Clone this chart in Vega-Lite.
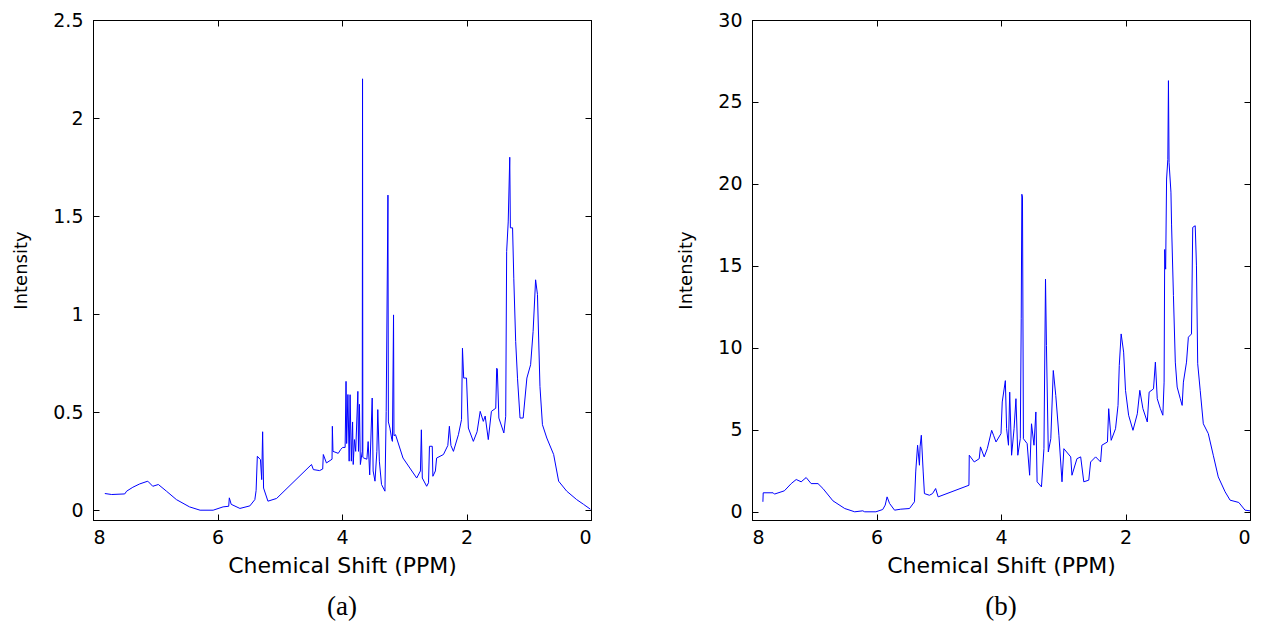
{
  "$schema": "https://vega.github.io/schema/vega-lite/v6.json",
  "background": "white",
  "padding": {"left": 12, "top": 10, "right": 5, "bottom": 5},
  "spacing": 84,
  "config": {
    "view": {"stroke": "black", "strokeWidth": 1},
    "axis": {
      "grid": false,
      "domainColor": "black",
      "tickColor": "black",
      "labelColor": "black",
      "titleColor": "black",
      "labelFont": "DejaVu Sans",
      "titleFont": "DejaVu Sans",
      "titleFontWeight": "normal",
      "labelFontSize": 19,
      "titleFontSize": 20,
      "tickSize": -6,
      "labelPadding": 16
    }
  },
  "datasets": {
    "a": [
      {"ppm": 7.81, "intensity": 0.085}, {"ppm": 7.7, "intensity": 0.08}, {"ppm": 7.49, "intensity": 0.083},
      {"ppm": 7.46, "intensity": 0.097}, {"ppm": 7.36, "intensity": 0.117}, {"ppm": 7.25, "intensity": 0.134},
      {"ppm": 7.12, "intensity": 0.148}, {"ppm": 7.04, "intensity": 0.122}, {"ppm": 6.95, "intensity": 0.131},
      {"ppm": 6.82, "intensity": 0.097}, {"ppm": 6.66, "intensity": 0.054}, {"ppm": 6.45, "intensity": 0.017},
      {"ppm": 6.28, "intensity": 0.0}, {"ppm": 6.07, "intensity": 0.0}, {"ppm": 5.91, "intensity": 0.017},
      {"ppm": 5.82, "intensity": 0.02}, {"ppm": 5.81, "intensity": 0.063}, {"ppm": 5.78, "intensity": 0.03},
      {"ppm": 5.64, "intensity": 0.009}, {"ppm": 5.48, "intensity": 0.022}, {"ppm": 5.4, "intensity": 0.054},
      {"ppm": 5.38, "intensity": 0.1}, {"ppm": 5.36, "intensity": 0.275}, {"ppm": 5.31, "intensity": 0.258},
      {"ppm": 5.29, "intensity": 0.156}, {"ppm": 5.275, "intensity": 0.4}, {"ppm": 5.26, "intensity": 0.113},
      {"ppm": 5.19, "intensity": 0.046}, {"ppm": 5.05, "intensity": 0.06}, {"ppm": 4.49, "intensity": 0.233},
      {"ppm": 4.46, "intensity": 0.207}, {"ppm": 4.36, "intensity": 0.202}, {"ppm": 4.31, "intensity": 0.21},
      {"ppm": 4.3, "intensity": 0.284}, {"ppm": 4.25, "intensity": 0.241}, {"ppm": 4.16, "intensity": 0.26},
      {"ppm": 4.155, "intensity": 0.428}, {"ppm": 4.145, "intensity": 0.3}, {"ppm": 4.06, "intensity": 0.29},
      {"ppm": 4.02, "intensity": 0.31}, {"ppm": 3.99, "intensity": 0.32}, {"ppm": 3.95, "intensity": 0.32},
      {"ppm": 3.935, "intensity": 0.657}, {"ppm": 3.925, "intensity": 0.34}, {"ppm": 3.905, "intensity": 0.59},
      {"ppm": 3.885, "intensity": 0.25}, {"ppm": 3.87, "intensity": 0.589}, {"ppm": 3.85, "intensity": 0.25},
      {"ppm": 3.83, "intensity": 0.45}, {"ppm": 3.82, "intensity": 0.233}, {"ppm": 3.8, "intensity": 0.36},
      {"ppm": 3.78, "intensity": 0.3}, {"ppm": 3.745, "intensity": 0.606}, {"ppm": 3.735, "intensity": 0.3},
      {"ppm": 3.72, "intensity": 0.54}, {"ppm": 3.705, "intensity": 0.233}, {"ppm": 3.675, "intensity": 0.3},
      {"ppm": 3.67, "intensity": 2.2}, {"ppm": 3.665, "intensity": 0.27}, {"ppm": 3.65, "intensity": 0.266},
      {"ppm": 3.6, "intensity": 0.26}, {"ppm": 3.58, "intensity": 0.35}, {"ppm": 3.555, "intensity": 0.18},
      {"ppm": 3.515, "intensity": 0.572}, {"ppm": 3.5, "intensity": 0.2}, {"ppm": 3.47, "intensity": 0.148},
      {"ppm": 3.44, "intensity": 0.3}, {"ppm": 3.425, "intensity": 0.513}, {"ppm": 3.4, "intensity": 0.25},
      {"ppm": 3.365, "intensity": 0.131}, {"ppm": 3.31, "intensity": 0.097}, {"ppm": 3.29, "intensity": 0.504},
      {"ppm": 3.262, "intensity": 1.607}, {"ppm": 3.255, "intensity": 0.45}, {"ppm": 3.23, "intensity": 0.419},
      {"ppm": 3.2, "intensity": 0.36}, {"ppm": 3.19, "intensity": 0.351}, {"ppm": 3.172, "intensity": 0.996},
      {"ppm": 3.165, "intensity": 0.38}, {"ppm": 3.14, "intensity": 0.385}, {"ppm": 3.02, "intensity": 0.266},
      {"ppm": 2.91, "intensity": 0.215}, {"ppm": 2.8, "intensity": 0.164}, {"ppm": 2.74, "intensity": 0.2},
      {"ppm": 2.725, "intensity": 0.41}, {"ppm": 2.71, "intensity": 0.164}, {"ppm": 2.64, "intensity": 0.122},
      {"ppm": 2.61, "intensity": 0.14}, {"ppm": 2.595, "intensity": 0.326}, {"ppm": 2.55, "intensity": 0.326},
      {"ppm": 2.54, "intensity": 0.173}, {"ppm": 2.5, "intensity": 0.2}, {"ppm": 2.48, "intensity": 0.266},
      {"ppm": 2.37, "intensity": 0.284}, {"ppm": 2.3, "intensity": 0.33}, {"ppm": 2.275, "intensity": 0.428},
      {"ppm": 2.25, "intensity": 0.33}, {"ppm": 2.21, "intensity": 0.3}, {"ppm": 2.13, "intensity": 0.385},
      {"ppm": 2.08, "intensity": 0.462}, {"ppm": 2.065, "intensity": 0.826}, {"ppm": 2.045, "intensity": 0.674},
      {"ppm": 2.0, "intensity": 0.674}, {"ppm": 1.97, "intensity": 0.419}, {"ppm": 1.89, "intensity": 0.351},
      {"ppm": 1.83, "intensity": 0.4}, {"ppm": 1.78, "intensity": 0.504}, {"ppm": 1.73, "intensity": 0.453},
      {"ppm": 1.7, "intensity": 0.48}, {"ppm": 1.65, "intensity": 0.36}, {"ppm": 1.6, "intensity": 0.504},
      {"ppm": 1.53, "intensity": 0.52}, {"ppm": 1.515, "intensity": 0.724}, {"ppm": 1.505, "intensity": 0.72},
      {"ppm": 1.48, "intensity": 0.47}, {"ppm": 1.4, "intensity": 0.394}, {"ppm": 1.37, "intensity": 0.479},
      {"ppm": 1.355, "intensity": 1.319}, {"ppm": 1.33, "intensity": 1.47}, {"ppm": 1.305, "intensity": 1.8},
      {"ppm": 1.295, "intensity": 1.44}, {"ppm": 1.26, "intensity": 1.44}, {"ppm": 1.24, "intensity": 1.18},
      {"ppm": 1.21, "intensity": 0.86}, {"ppm": 1.18, "intensity": 0.67}, {"ppm": 1.14, "intensity": 0.47},
      {"ppm": 1.09, "intensity": 0.47}, {"ppm": 1.03, "intensity": 0.674}, {"ppm": 0.97, "intensity": 0.742},
      {"ppm": 0.93, "intensity": 0.911}, {"ppm": 0.89, "intensity": 1.175}, {"ppm": 0.86, "intensity": 1.1},
      {"ppm": 0.82, "intensity": 0.631}, {"ppm": 0.78, "intensity": 0.436}, {"ppm": 0.71, "intensity": 0.368},
      {"ppm": 0.6, "intensity": 0.284}, {"ppm": 0.52, "intensity": 0.148}, {"ppm": 0.39, "intensity": 0.097},
      {"ppm": 0.23, "intensity": 0.054}, {"ppm": 0.12, "intensity": 0.03}, {"ppm": 0.01, "intensity": 0.005}
    ],
    "b": [
      {"ppm": 7.825, "intensity": 0.61}, {"ppm": 7.82, "intensity": 1.16}, {"ppm": 7.66, "intensity": 1.16},
      {"ppm": 7.64, "intensity": 1.08}, {"ppm": 7.48, "intensity": 1.28}, {"ppm": 7.37, "intensity": 1.72},
      {"ppm": 7.29, "intensity": 1.97}, {"ppm": 7.21, "intensity": 1.83}, {"ppm": 7.13, "intensity": 2.09},
      {"ppm": 7.05, "intensity": 1.72}, {"ppm": 6.94, "intensity": 1.72}, {"ppm": 6.86, "intensity": 1.42},
      {"ppm": 6.7, "intensity": 0.67}, {"ppm": 6.51, "intensity": 0.2}, {"ppm": 6.35, "intensity": 0.0},
      {"ppm": 6.22, "intensity": 0.06}, {"ppm": 6.19, "intensity": 0.0}, {"ppm": 6.01, "intensity": 0.0},
      {"ppm": 5.9, "intensity": 0.14}, {"ppm": 5.86, "intensity": 0.41}, {"ppm": 5.83, "intensity": 0.91},
      {"ppm": 5.79, "intensity": 0.51}, {"ppm": 5.71, "intensity": 0.1}, {"ppm": 5.61, "intensity": 0.16},
      {"ppm": 5.47, "intensity": 0.2}, {"ppm": 5.39, "intensity": 0.61}, {"ppm": 5.37, "intensity": 2.43},
      {"ppm": 5.34, "intensity": 4.06}, {"ppm": 5.31, "intensity": 2.84}, {"ppm": 5.3, "intensity": 3.96},
      {"ppm": 5.28, "intensity": 4.67}, {"ppm": 5.25, "intensity": 2.43}, {"ppm": 5.23, "intensity": 1.11},
      {"ppm": 5.15, "intensity": 1.01}, {"ppm": 5.1, "intensity": 1.11}, {"ppm": 5.05, "intensity": 1.42},
      {"ppm": 5.01, "intensity": 0.91}, {"ppm": 4.515, "intensity": 1.62}, {"ppm": 4.51, "intensity": 3.45},
      {"ppm": 4.43, "intensity": 3.04}, {"ppm": 4.35, "intensity": 3.24}, {"ppm": 4.33, "intensity": 3.96},
      {"ppm": 4.27, "intensity": 3.35}, {"ppm": 4.22, "intensity": 3.85}, {"ppm": 4.15, "intensity": 4.97},
      {"ppm": 4.12, "intensity": 4.67}, {"ppm": 4.08, "intensity": 4.26}, {"ppm": 4.0, "intensity": 4.77},
      {"ppm": 3.98, "intensity": 6.7}, {"ppm": 3.93, "intensity": 8.0}, {"ppm": 3.91, "intensity": 5.07},
      {"ppm": 3.88, "intensity": 4.06}, {"ppm": 3.86, "intensity": 7.3}, {"ppm": 3.83, "intensity": 3.45},
      {"ppm": 3.79, "intensity": 5.07}, {"ppm": 3.76, "intensity": 6.9}, {"ppm": 3.73, "intensity": 3.45},
      {"ppm": 3.69, "intensity": 4.46}, {"ppm": 3.675, "intensity": 11.77}, {"ppm": 3.665, "intensity": 19.37},
      {"ppm": 3.655, "intensity": 19.2}, {"ppm": 3.64, "intensity": 4.46}, {"ppm": 3.58, "intensity": 4.16},
      {"ppm": 3.54, "intensity": 2.23}, {"ppm": 3.51, "intensity": 5.37}, {"ppm": 3.47, "intensity": 4.06},
      {"ppm": 3.44, "intensity": 6.09}, {"ppm": 3.42, "intensity": 1.83}, {"ppm": 3.35, "intensity": 1.52},
      {"ppm": 3.31, "intensity": 3.85}, {"ppm": 3.285, "intensity": 14.2}, {"ppm": 3.27, "intensity": 10.15},
      {"ppm": 3.24, "intensity": 3.65}, {"ppm": 3.2, "intensity": 4.46}, {"ppm": 3.16, "intensity": 8.62},
      {"ppm": 3.12, "intensity": 7.1}, {"ppm": 3.07, "intensity": 4.67}, {"ppm": 3.02, "intensity": 1.83},
      {"ppm": 2.99, "intensity": 3.85}, {"ppm": 2.88, "intensity": 3.35}, {"ppm": 2.86, "intensity": 2.23},
      {"ppm": 2.78, "intensity": 3.24}, {"ppm": 2.72, "intensity": 3.35}, {"ppm": 2.67, "intensity": 1.83},
      {"ppm": 2.59, "intensity": 1.93}, {"ppm": 2.56, "intensity": 3.04}, {"ppm": 2.48, "intensity": 3.35},
      {"ppm": 2.4, "intensity": 3.04}, {"ppm": 2.38, "intensity": 4.06}, {"ppm": 2.29, "intensity": 4.26},
      {"ppm": 2.27, "intensity": 6.29}, {"ppm": 2.23, "intensity": 4.36}, {"ppm": 2.16, "intensity": 5.07},
      {"ppm": 2.12, "intensity": 6.49}, {"ppm": 2.1, "intensity": 8.93}, {"ppm": 2.07, "intensity": 10.85},
      {"ppm": 2.03, "intensity": 9.74}, {"ppm": 2.0, "intensity": 7.41}, {"ppm": 1.95, "intensity": 5.89},
      {"ppm": 1.88, "intensity": 4.97}, {"ppm": 1.81, "intensity": 5.98}, {"ppm": 1.77, "intensity": 7.41},
      {"ppm": 1.72, "intensity": 6.29}, {"ppm": 1.65, "intensity": 5.48}, {"ppm": 1.62, "intensity": 7.3},
      {"ppm": 1.55, "intensity": 7.5}, {"ppm": 1.52, "intensity": 9.13}, {"ppm": 1.49, "intensity": 6.9},
      {"ppm": 1.44, "intensity": 6.29}, {"ppm": 1.4, "intensity": 5.89}, {"ppm": 1.38, "intensity": 7.91},
      {"ppm": 1.37, "intensity": 16.0}, {"ppm": 1.355, "intensity": 14.8}, {"ppm": 1.34, "intensity": 20.3},
      {"ppm": 1.32, "intensity": 21.5}, {"ppm": 1.31, "intensity": 26.3}, {"ppm": 1.3, "intensity": 21.3},
      {"ppm": 1.27, "intensity": 19.5}, {"ppm": 1.26, "intensity": 17.5}, {"ppm": 1.23, "intensity": 13.2},
      {"ppm": 1.2, "intensity": 9.13}, {"ppm": 1.17, "intensity": 7.61}, {"ppm": 1.12, "intensity": 6.9},
      {"ppm": 1.09, "intensity": 6.49}, {"ppm": 1.07, "intensity": 7.91}, {"ppm": 1.02, "intensity": 9.13},
      {"ppm": 0.99, "intensity": 10.65}, {"ppm": 0.94, "intensity": 10.85}, {"ppm": 0.92, "intensity": 17.35},
      {"ppm": 0.88, "intensity": 17.45}, {"ppm": 0.86, "intensity": 15.0}, {"ppm": 0.84, "intensity": 9.03},
      {"ppm": 0.8, "intensity": 7.41}, {"ppm": 0.75, "intensity": 5.37}, {"ppm": 0.67, "intensity": 4.77},
      {"ppm": 0.59, "intensity": 3.45}, {"ppm": 0.51, "intensity": 2.13}, {"ppm": 0.4, "intensity": 1.22},
      {"ppm": 0.32, "intensity": 0.71}, {"ppm": 0.18, "intensity": 0.57}, {"ppm": 0.08, "intensity": 0.1},
      {"ppm": 0.0, "intensity": 0.06}
    ]
  },
  "hconcat": [
    {
      "width": 498,
      "height": 500,
      "title": {"text": "(a)", "orient": "bottom", "font": "Liberation Serif", "fontSize": 27, "fontWeight": "normal", "color": "black", "offset": 18},
      "data": {"name": "a"},
      "layer": [
        {
          "mark": {"type": "line", "color": "#0000ff", "strokeWidth": 1},
          "encoding": {
            "x": {"field": "ppm", "type": "quantitative", "scale": {"domain": [0, 8], "reverse": true, "nice": false, "zero": false},
                  "axis": {"orient": "bottom", "values": [0, 2, 4, 6, 8], "title": "Chemical Shift (PPM)", "titleFontSize": 22, "labelPadding": 14, "titlePadding": 8}},
            "y": {"field": "intensity", "type": "quantitative", "scale": {"domain": [-0.05, 2.5], "nice": false, "zero": false},
                  "axis": {"orient": "left", "values": [0, 0.5, 1, 1.5, 2, 2.5], "format": "~g", "title": "Intensity", "titleFontSize": 18, "titlePadding": 22}}
          }
        },
        {
          "mark": {"type": "line", "opacity": 0},
          "encoding": {
            "x": {"field": "ppm", "type": "quantitative", "axis": {"orient": "top", "values": [0, 2, 4, 6, 8], "labels": false, "title": null}},
            "y": {"field": "intensity", "type": "quantitative", "axis": {"orient": "right", "values": [0, 0.5, 1, 1.5, 2, 2.5], "labels": false, "title": null}}
          }
        }
      ],
      "resolve": {"axis": {"x": "independent", "y": "independent"}}
    },
    {
      "width": 498,
      "height": 500,
      "title": {"text": "(b)", "orient": "bottom", "font": "Liberation Serif", "fontSize": 27, "fontWeight": "normal", "color": "black", "offset": 18},
      "data": {"name": "b"},
      "layer": [
        {
          "mark": {"type": "line", "color": "#0000ff", "strokeWidth": 1},
          "encoding": {
            "x": {"field": "ppm", "type": "quantitative", "scale": {"domain": [0, 8], "reverse": true, "nice": false, "zero": false},
                  "axis": {"orient": "bottom", "values": [0, 2, 4, 6, 8], "title": "Chemical Shift (PPM)", "titleFontSize": 22, "labelPadding": 14, "titlePadding": 8}},
            "y": {"field": "intensity", "type": "quantitative", "scale": {"domain": [-0.5, 30], "nice": false, "zero": false},
                  "axis": {"orient": "left", "values": [0, 5, 10, 15, 20, 25, 30], "title": "Intensity", "titleFontSize": 18, "titlePadding": 22}}
          }
        },
        {
          "mark": {"type": "line", "opacity": 0},
          "encoding": {
            "x": {"field": "ppm", "type": "quantitative", "axis": {"orient": "top", "values": [0, 2, 4, 6, 8], "labels": false, "title": null}},
            "y": {"field": "intensity", "type": "quantitative", "axis": {"orient": "right", "values": [0, 5, 10, 15, 20, 25, 30], "labels": false, "title": null}}
          }
        }
      ],
      "resolve": {"axis": {"x": "independent", "y": "independent"}}
    }
  ]
}
